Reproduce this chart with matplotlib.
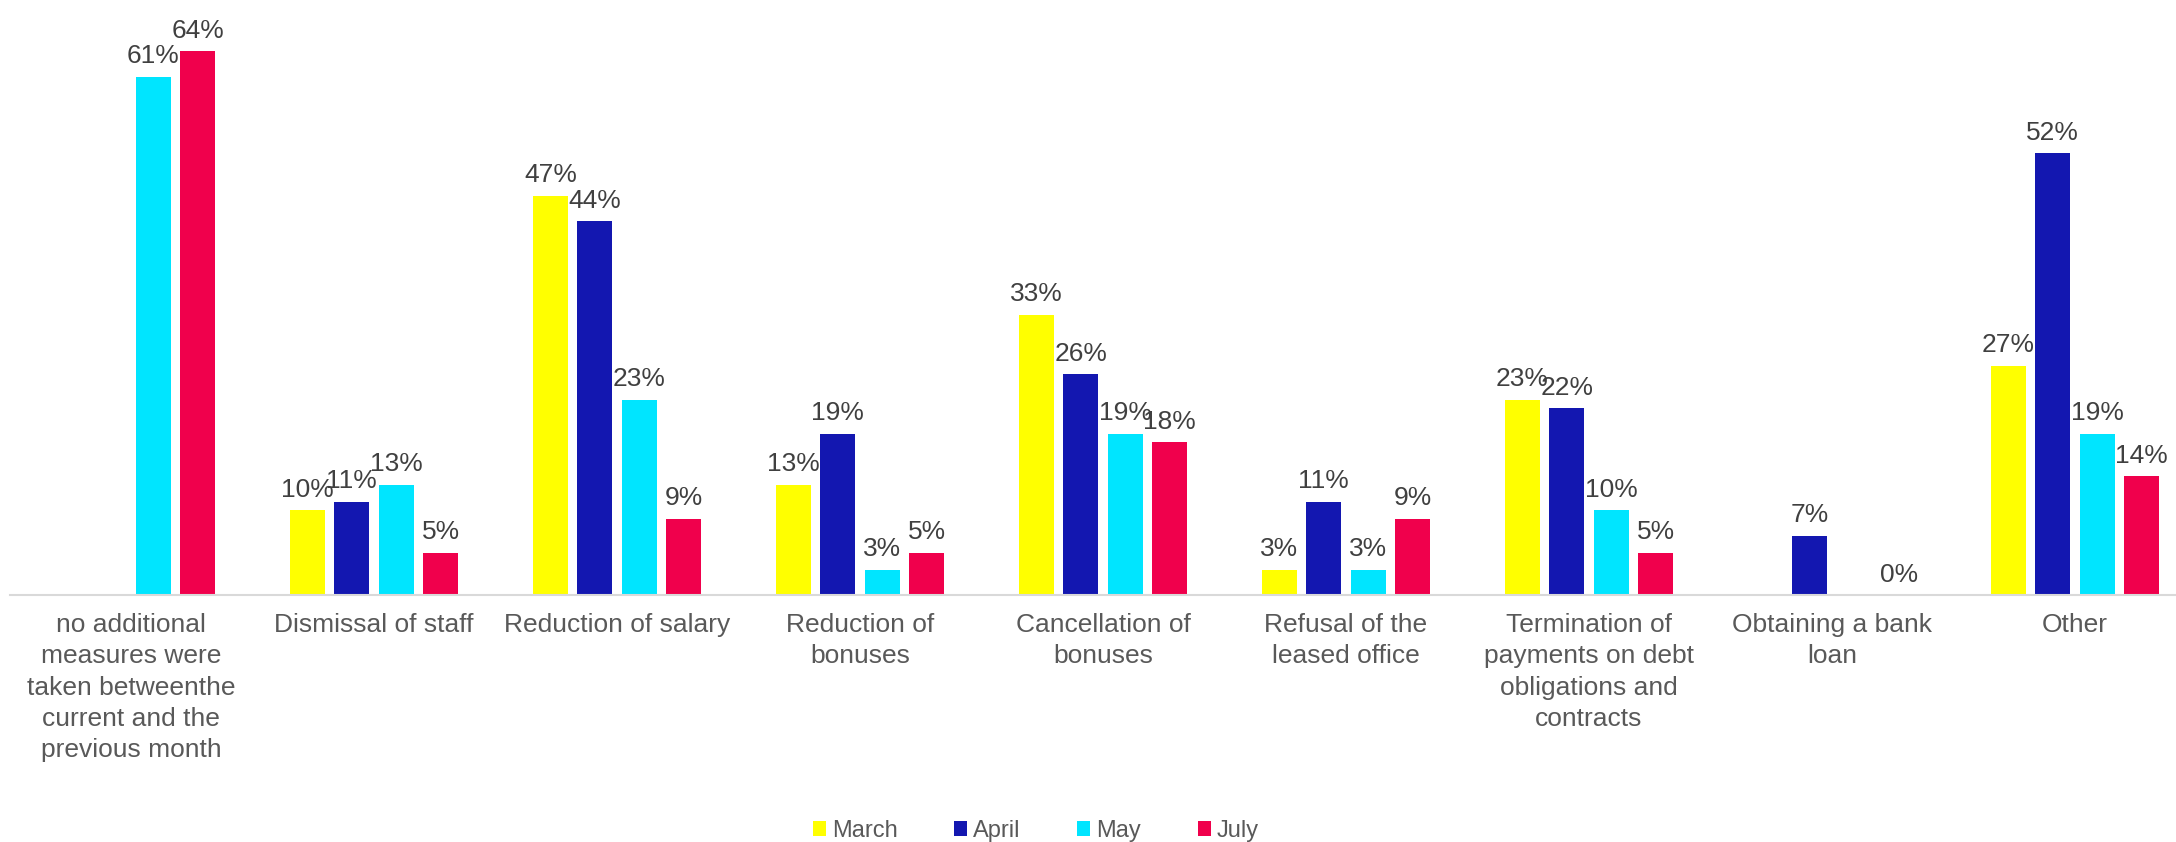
import numpy as np
import matplotlib
matplotlib.use("Agg")
import matplotlib.pyplot as plt

plt.rcParams['font.family'] = ['Liberation Sans', 'DejaVu Sans']

categories = [
    "no additional\nmeasures were\ntaken betweenthe\ncurrent and the\nprevious month",
    "Dismissal of staff",
    "Reduction of salary",
    "Reduction of\nbonuses",
    "Cancellation of\nbonuses",
    "Refusal of the\nleased office",
    "Termination of\npayments on debt\nobligations and\ncontracts",
    "Obtaining a bank\nloan",
    "Other",
]
series_names = ["March", "April", "May", "July"]
march = [np.nan, 10, 47, 13, 33, 3, 23, np.nan, 27]
april = [np.nan, 11, 44, 19, 26, 11, 22, 7, 52]
may = [61, 13, 23, 3, 19, 3, 10, np.nan, 19]
july = [64, 5, 9, 5, 18, 9, 5, 0, 14]
colors = ["#FFFF00", "#1317B0", "#00E5FF", "#F0004C"]

fig = plt.figure(figsize=(21.76, 8.42), dpi=100)
ax = fig.add_axes([0.0044, 0.2933, 1.005, 0.7067])

x = np.arange(len(categories))
step = 0.183
width = 0.145
for i, (name, vals, c) in enumerate(zip(series_names, [march, april, may, july], colors)):
    pos = x + (i - 1.5) * step
    ax.bar(pos, vals, width=width, color=c, label=name)
    for p, v in zip(pos, vals):
        if np.isnan(v):
            continue
        ax.annotate(f"{v:.0f}%", (p, v), xytext=(0, 6), textcoords="offset points",
                    ha="center", va="bottom", fontsize=19, color="#404040")

ax.set_xlim(-0.5, len(categories) - 0.5)
ax.set_ylim(0, 70)
ax.set_xticks(x)
ax.set_xticklabels(categories, fontsize=19, color="#595959", linespacing=1.38)
ax.tick_params(axis="x", length=0, pad=13)
ax.set_yticks([])
for s in ["top", "left", "right"]:
    ax.spines[s].set_visible(False)
ax.spines["bottom"].set_color("#d9d9d9")
ax.spines["bottom"].set_linewidth(1.5)

leg = fig.legend(loc="center", bbox_to_anchor=(0.476, 0.013), ncol=4, frameon=False,
                 fontsize=17, handlelength=0.55, handleheight=0.6, handletextpad=0.25,
                 columnspacing=2.4, labelcolor="#595959")

fig.savefig("out.png", dpi=100)
